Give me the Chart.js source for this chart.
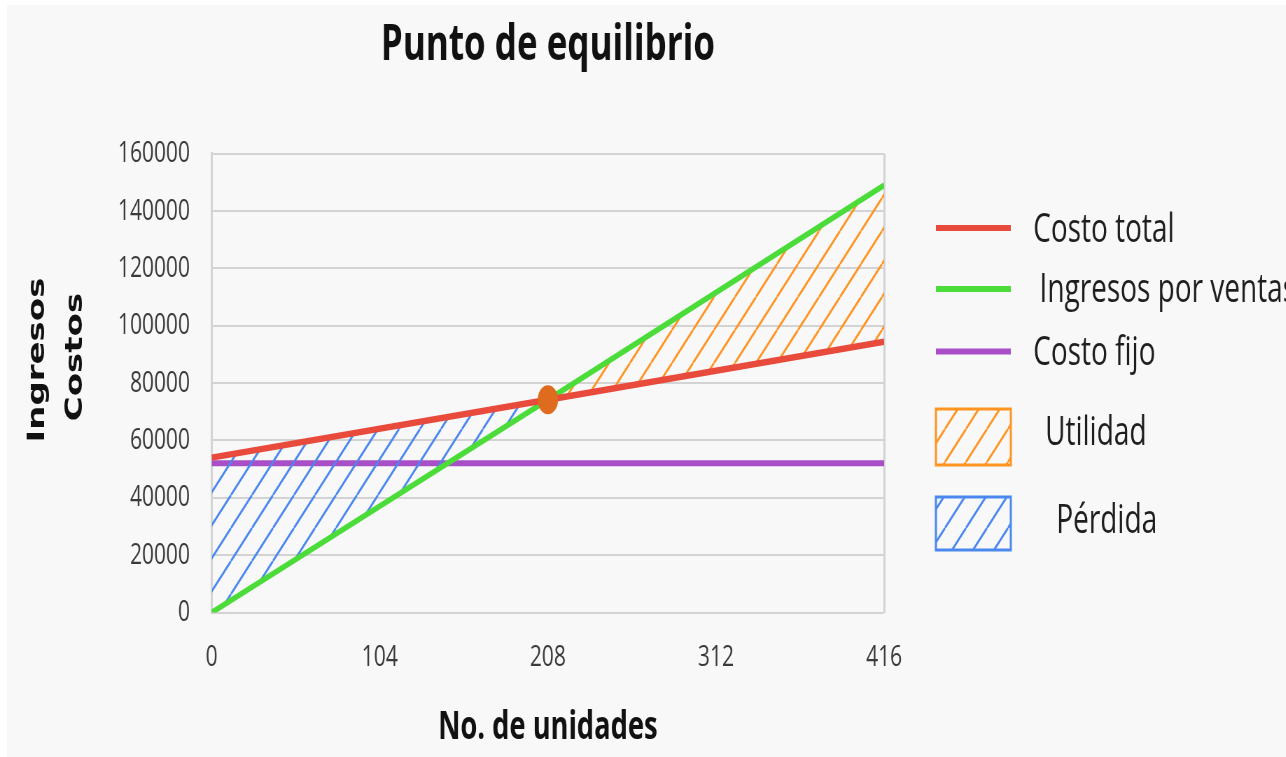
<!DOCTYPE html>
<html lang="es">
<head>
<meta charset="utf-8">
<title>Punto de equilibrio</title>
<script src="https://cdn.jsdelivr.net/npm/chart.js@4.4.1/dist/chart.umd.min.js"></script>
<style>
  html, body { margin: 0; padding: 0; background: #ffffff; overflow: hidden; width: 1286px; height: 757px; }
  #fondo { position: absolute; left: 7px; top: 5px; width: 1279px; height: 752px; background: #f8f8f8; }
  /* the chart is laid out wide and narrowed horizontally, giving the condensed look */
  #lienzo { position: absolute; left: 0; top: 0; width: 1837px; height: 757px; transform: scaleX(0.7); transform-origin: 0 0; }
</style>
</head>
<body>
<div id="fondo"></div>
<div id="lienzo"><canvas id="grafico" width="1837" height="757"></canvas></div>
<script>
// Units sold (x) and amounts (y)
const unidades = [0, 208, 416];
const ingresosPorVentas = [0, 74200, 149000];
const costoTotal = [54000, 74200, 94400];
const costoFijo = [52000, 52000, 52000];
const puntoEquilibrio = [208, 74200];

const ticksUnidades = [0, 104, 208, 312, 416];
const ticksMonto = [0, 20000, 40000, 60000, 80000, 100000, 120000, 140000, 160000];

const nombresSeries = ['Costo total', 'Ingresos por ventas', 'Costo fijo'];
const nombresAreas = ['Utilidad', 'Pérdida'];
const tituloEjeY = ['Ingresos', 'Costos'];

const ROJO = '#e84a3c';
const VERDE = '#4cdc3a';
const MORADO = '#a84fc8';
const NARANJA = '#ff9422';
const AZUL = '#4a88f0';
const PUNTO = '#df6b1e';
const REJILLA = '#d3d3d3';
const TEXTO = '#3a3a3a';

Chart.defaults.font.family = "'Open Sans', 'Noto Sans', sans-serif";

const canvas = document.getElementById('grafico');
const ctx = canvas.getContext('2d');

// diagonal hatch used for the profit / loss areas
function rayado(color) {
  const w = 30, h = 33;
  const c = document.createElement('canvas');
  c.width = w; c.height = h;
  const g = c.getContext('2d');
  g.strokeStyle = color;
  g.lineWidth = 2.6;
  g.beginPath();
  for (const dx of [-w, 0, w]) { g.moveTo(dx, h); g.lineTo(dx + w, 0); }
  g.stroke();
  return ctx.createPattern(c, 'repeat');
}
const rayaNaranja = rayado(NARANJA);
const rayaAzul = rayado(AZUL);

const puntos = ys => unidades.map((u, i) => ({ x: u, y: ys[i] }));

// legend drawn at the right of the plot
const leyenda = {
  id: 'leyenda',
  afterDraw(chart) {
    const c = chart.ctx;
    c.save();
    const x0 = 1337, x1 = 1444;
    const lineas = [
      { color: ROJO, y: 228, tx: 1476, base: 241.5 },
      { color: VERDE, y: 289, tx: 1485, base: 301.5 },
      { color: MORADO, y: 351.5, tx: 1476, base: 364.5 }
    ];
    c.font = "40px 'Open Sans', sans-serif";
    c.fillStyle = '#1e1e1e';
    c.textBaseline = 'alphabetic';
    c.textAlign = 'left';
    lineas.forEach((l, i) => {
      c.strokeStyle = l.color;
      c.lineWidth = 6;
      c.lineCap = 'butt';
      c.beginPath(); c.moveTo(x0, l.y); c.lineTo(x1, l.y); c.stroke();
      c.fillText(nombresSeries[i], l.tx, l.base);
    });
    const cajas = [
      { patron: rayaNaranja, color: NARANJA, y: 409, h: 56, tx: 1493, base: 445 },
      { patron: rayaAzul, color: AZUL, y: 497, h: 53, tx: 1509, base: 533 }
    ];
    cajas.forEach((b, i) => {
      c.fillStyle = b.patron;
      c.fillRect(x0, b.y, x1 - x0, b.h);
      c.strokeStyle = b.color;
      c.lineWidth = 3;
      c.strokeRect(x0, b.y, x1 - x0, b.h);
      c.fillStyle = '#1e1e1e';
      c.fillText(nombresAreas[i], b.tx, b.base);
    });
    c.restore();
  }
};

// two-line vertical axis title
const tituloVertical = {
  id: 'tituloVertical',
  afterDraw(chart) {
    const c = chart.ctx;
    c.save();
    c.font = "bold 34px 'DejaVu Sans', sans-serif";
    c.fillStyle = '#111111';
    c.textAlign = 'center';
    c.textBaseline = 'alphabetic';
    const filas = [{ base: 63, cy: 360 }, { base: 117, cy: 357 }];
    tituloEjeY.forEach((t, i) => {
      c.save();
      c.translate(0, filas[i].cy);
      c.rotate(-Math.PI / 2);
      c.fillText(t, 0, filas[i].base);
      c.restore();
    });
    c.restore();
  }
};

new Chart(ctx, {
  type: 'line',
  data: {
    datasets: [
      {
        label: 'Punto de equilibrio',
        data: [{ x: puntoEquilibrio[0], y: puntoEquilibrio[1] }],
        showLine: false,
        pointRadius: 14.5,
        pointHoverRadius: 14.5,
        pointBackgroundColor: PUNTO,
        pointBorderWidth: 0
      },
      {
        label: nombresSeries[0],
        data: puntos(costoTotal),
        borderColor: ROJO,
        borderWidth: 6.5,
        pointRadius: 0,
        fill: false
      },
      {
        label: nombresSeries[1],
        data: puntos(ingresosPorVentas),
        borderColor: VERDE,
        borderWidth: 6,
        pointRadius: 0,
        fill: { target: 1, above: rayaNaranja, below: rayaAzul }
      },
      {
        label: nombresSeries[2],
        data: puntos(costoFijo),
        borderColor: MORADO,
        borderWidth: 6,
        pointRadius: 0,
        fill: false
      }
    ]
  },
  options: {
    responsive: false,
    animation: false,
    events: [],
    layout: { padding: { left: 0, right: 574, top: 0, bottom: 0 } },
    plugins: {
      legend: { display: false },
      tooltip: { enabled: false },
      title: {
        display: true,
        text: 'Punto de equilibrio',
        fullSize: false,
        color: '#111111',
        font: { size: 50, weight: 'bold' },
        padding: { top: 16, bottom: 77.6 }
      }
    },
    scales: {
      x: {
        type: 'linear',
        min: 0,
        max: 416,
        afterBuildTicks: s => { s.ticks = ticksUnidades.map(v => ({ value: v })); },
        afterFit: s => { s.height = 144.5; },
        grid: {
          drawTicks: false,
          lineWidth: 3,
          color: c => (c.index === ticksUnidades.length - 1 ? REJILLA : 'transparent')
        },
        border: { display: false },
        ticks: {
          padding: 26.5,
          color: TEXTO,
          font: { size: 30 },
          maxRotation: 0,
          autoSkip: false,
          callback: v => String(v)
        },
        title: {
          display: true,
          text: 'No. de unidades',
          color: '#111111',
          font: { size: 39, weight: 'bold' },
          padding: { top: 0, bottom: 5.5 }
        }
      },
      y: {
        min: 0,
        max: 160000,
        afterBuildTicks: s => { s.ticks = ticksMonto.map(v => ({ value: v })); },
        afterFit: s => { s.width = 302.4; },
        grid: { drawTicks: false, color: REJILLA, lineWidth: 2 },
        border: { display: true, color: REJILLA, width: 3 },
        ticks: {
          padding: 31,
          color: TEXTO,
          font: { size: 30 },
          callback: v => String(v)
        }
      }
    }
  },
  plugins: [leyenda, tituloVertical]
});
</script>
</body>
</html>
